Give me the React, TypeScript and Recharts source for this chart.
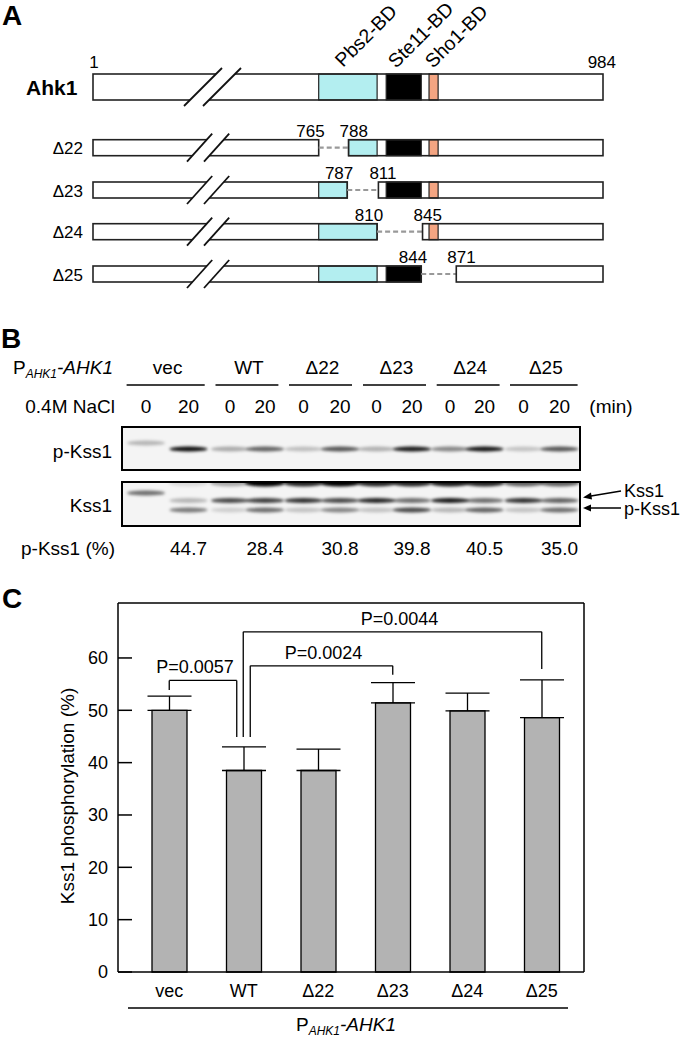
import React from 'react';
import { BarChart, Bar, XAxis, YAxis, ErrorBar, ReferenceLine } from 'recharts';

// ---- panel C data ----
const categories = ['vec', 'WT', 'Δ22', 'Δ23', 'Δ24', 'Δ25'];
const phosphoMean = [50.0, 38.5, 38.5, 51.4, 49.9, 48.6];
const phosphoErr = [2.7, 4.5, 4.1, 3.9, 3.4, 7.2];
const yTicks = [0, 10, 20, 30, 40, 50, 60];
const Y_MAX = 70.5;

// significance brackets (heights in % units)
const brackets = [
  { from: 'vec', to: 'WT', top: 55.7, fromBase: 53.9, toBase: 44.9, p: 'P=0.0057' },
  { from: 'WT', to: 'Δ23', top: 58.5, fromBase: 44.9, toBase: 56.8, p: 'P=0.0024' },
  { from: 'WT', to: 'Δ25', top: 65.0, fromBase: 44.9, toBase: 57.9, p: 'P=0.0044' },
];
// pixel nudges so the three legs on WT don't overlap
const bracketNudge = [
  { fromDx: 0, toDx: -7, labelDx: -8 },
  { fromDx: 6.5, toDx: 0, labelDx: 2 },
  { fromDx: -0.5, toDx: 0, labelDx: 7 },
];

// ---- panel B data ----
const blotGroups = ['vec', 'WT', 'Δ22', 'Δ23', 'Δ24', 'Δ25'];
const nacl = ['0', '20'];
const pKss1Pct = ['44.7', '28.4', '30.8', '39.8', '40.5', '35.0'];
const pKss1Band = [0.25, 0.95, 0.3, 0.6, 0.22, 0.65, 0.28, 0.9, 0.45, 0.92, 0.2, 0.65];
const kss1TopBand = [0, 0.1, 0.3, 1, 0.85, 1, 0.85, 0.85, 0.9, 0.85, 0.6, 0.6];
const kss1Band = [0.55, 0.25, 0.7, 0.75, 0.8, 0.7, 0.85, 0.55, 0.9, 0.55, 0.8, 0.6];
const pKss1LowerBand = [0, 0.5, 0.15, 0.55, 0.2, 0.45, 0.2, 0.7, 0.25, 0.6, 0.2, 0.55];

// ---- panel A data (residues) ----
const domains = [
  { name: 'Pbs2-BD', start: 765, end: 810, color: '#b3eef0' },
  { name: 'Ste11-BD', start: 817, end: 844, color: '#000000' },
  { name: 'Sho1-BD', start: 850, end: 857, color: '#f4a582' },
];
const deletions = [
  { name: 'Δ22', left: 765, right: 788 },
  { name: 'Δ23', left: 787, right: 811 },
  { name: 'Δ24', left: 810, right: 845 },
  { name: 'Δ25', left: 844, right: 871 },
];

const FONT = '"Liberation Sans", Arial, Helvetica, sans-serif';

const chartData = categories.map((name, i) => ({ name, mean: phosphoMean[i], err: phosphoErr[i] }));

const LeftTick = (props: any) => {
  const { x, y, payload } = props;
  return (
    <g>
      <line x1={x + 10} x2={x + 24} y1={y} y2={y} stroke="#000" strokeWidth={1.5} />
      <text x={x} y={y} dy="0.36em" textAnchor="end" fontSize={18} fill="#000" fontFamily={FONT}>
        {payload.value}
      </text>
    </g>
  );
};

const RightTick = (props: any) => {
  const { x, y } = props;
  return <line x1={x - 14} x2={x} y1={y} y2={y} stroke="#000" strokeWidth={1.5} />;
};

const legShape = (dx: number) => (p: any) => (
  <line x1={p.x1 + dx} y1={p.y1} x2={p.x2 + dx} y2={p.y2} stroke="#000" strokeWidth={1.3} />
);

const topShape = (fromDx: number, toDx: number, labelDx: number, text: string) => (p: any) => {
  const xa = p.x1 + fromDx;
  const xb = p.x2 + toDx;
  return (
    <g>
      <line x1={xa} y1={p.y1} x2={xb} y2={p.y2} stroke="#000" strokeWidth={1.3} />
      <text x={(xa + xb) / 2 + labelDx} y={p.y1 - 7} textAnchor="middle" fontSize={18} fill="#000" fontFamily={FONT}>
        {text}
      </text>
    </g>
  );
};

const PAhk1 = ({ x, y, anchor = 'start' }: { x: number; y: number; anchor?: string }) => (
  <text x={x} y={y} fontSize={19} textAnchor={anchor as any} fontFamily={FONT}>
    <tspan>P</tspan>
    <tspan fontSize={12} dy={3.5} fontStyle="italic">AHK1</tspan>
    <tspan dy={-3.5} fontStyle="italic">-AHK1</tspan>
  </text>
);

// residue -> x for the part right of the break
const rx = (r: number) => 318.7 + (r - 765) * 1.298;
const LEFT = 93;
const RIGHT = 603;

const Segment = ({ x0, x1, yc, h }: { x0: number; x1: number; yc: number; h: number }) => {
  const y0 = yc - h / 2;
  return (
    <g>
      <rect x={x0} y={y0} width={x1 - x0} height={h} fill="#fff" stroke="none" />
      {domains.map((d) => {
        const a = Math.max(rx(d.start), x0);
        const b = Math.min(rx(d.end), x1);
        if (b <= a) return null;
        return <rect key={d.name} x={a} y={y0} width={b - a} height={h} fill={d.color} stroke="#222" strokeWidth={1.2} />;
      })}
      <rect x={x0} y={y0} width={x1 - x0} height={h} fill="none" stroke="#222" strokeWidth={1.6} />
    </g>
  );
};

const Slashes = ({ yc, h, x, slope, gap }: { yc: number; h: number; x: number; slope: number; gap: number }) => {
  const ext = 6;
  const yb = yc + h / 2 + ext;
  const yt = yc - h / 2 - ext;
  const run = (yb - yt) * slope;
  return (
    <g>
      <polygon points={`${x},${yb} ${x + run},${yt} ${x + run + gap},${yt} ${x + gap},${yb}`} fill="#fff" />
      <line x1={x} y1={yb} x2={x + run} y2={yt} stroke="#111" strokeWidth={1.8} />
      <line x1={x + gap} y1={yb} x2={x + run + gap} y2={yt} stroke="#111" strokeWidth={1.8} />
    </g>
  );
};

const labelAnchors = [
  { x: 343, y: 68 },
  { x: 396, y: 69 },
  { x: 433, y: 69 },
];

const PanelA = () => {
  const mainY = 87;
  const rowYs = [147.7, 190, 231.7, 274];
  return (
    <g fontFamily={FONT} fill="#000">
      <text x={2} y={25} fontSize={28} fontWeight="bold">A</text>
      <text x={26} y={95} fontSize={21} fontWeight="bold">Ahk1</text>
      <text x={94} y={68} fontSize={17} textAnchor="middle">1</text>
      <text x={616} y={68} fontSize={17} textAnchor="end">984</text>
      {domains.map((d, i) => (
        <text
          key={d.name}
          x={labelAnchors[i].x}
          y={labelAnchors[i].y}
          fontSize={19.5}
          transform={`rotate(-45 ${labelAnchors[i].x} ${labelAnchors[i].y})`}
        >
          {d.name}
        </text>
      ))}
      <Segment x0={LEFT} x1={RIGHT} yc={mainY} h={26} />
      <Slashes yc={mainY} h={26} x={184} slope={1.0} gap={19} />
      {deletions.map((d, i) => {
        const yc = rowYs[i];
        return (
          <g key={d.name}>
            <text x={83} y={yc + 6.5} fontSize={17} textAnchor="end">{d.name}</text>
            <Segment x0={LEFT} x1={rx(d.left)} yc={yc} h={16} />
            <line x1={rx(d.left)} x2={rx(d.right)} y1={yc} y2={yc} stroke="#999" strokeWidth={2.2} strokeDasharray="5 3" />
            <Segment x0={rx(d.right)} x1={RIGHT} yc={yc} h={16} />
            <Slashes yc={yc} h={16} x={187} slope={0.9} gap={17} />
            <text x={rx(d.left) + 6} y={yc - 11} fontSize={17} textAnchor="end">{d.left}</text>
            <text x={rx(d.right) - 9} y={yc - 11} fontSize={17} textAnchor="start">{d.right}</text>
          </g>
        );
      })}
    </g>
  );
};

const laneX = [146, 188.5, 230, 265, 303.5, 340, 376.5, 412, 450, 484.5, 523.5, 559.5];
const groupLines = [
  [126.6, 204.7], [215.5, 278.4], [289, 352], [363, 426], [436.7, 499.6], [510, 577.6],
];

const Bands = ({ vals, y, h, dy = 0, w = 19 }: { vals: number[]; y: number; h: number; dy?: number; w?: number }) => (
  <g filter="url(#blur)">
    {vals.map((v, i) =>
      v > 0 ? (
        <ellipse key={i} cx={laneX[i]} cy={y + (i === 0 ? dy : 0)} rx={w} ry={h} fill="#000" opacity={v} />
      ) : null
    )}
  </g>
);

const PanelB = () => (
  <g fontFamily={FONT} fill="#000">
    <defs>
      <filter id="blur" x="-20%" y="-80%" width="140%" height="260%">
        <feGaussianBlur stdDeviation="1.8" />
      </filter>
      <clipPath id="blot1"><rect x={122} y={427} width={458} height={43} /></clipPath>
      <clipPath id="blot2"><rect x={122} y={482} width={458} height={44} /></clipPath>
    </defs>
    <text x={1} y={348} fontSize={28} fontWeight="bold">B</text>
    <PAhk1 x={13} y={374} />
    {blotGroups.map((g, i) => (
      <g key={g}>
        <text x={(groupLines[i][0] + groupLines[i][1]) / 2 + 2} y={374} fontSize={19} textAnchor="middle">{g}</text>
        <line x1={groupLines[i][0]} x2={groupLines[i][1]} y1={385} y2={385} stroke="#000" strokeWidth={1.3} />
        {nacl.map((t, j) => (
          <text key={t} x={laneX[i * 2 + j]} y={412.5} fontSize={19} textAnchor="middle">{t}</text>
        ))}
        <text x={laneX[i * 2 + 1]} y={555} fontSize={19} textAnchor="middle">{pKss1Pct[i]}</text>
      </g>
    ))}
    <text x={115} y={412.5} fontSize={19} textAnchor="end">0.4M NaCl</text>
    <text x={611} y={412.5} fontSize={19} textAnchor="middle">(min)</text>
    <text x={112} y={458} fontSize={19} textAnchor="end">p-Kss1</text>
    <text x={112} y={512} fontSize={19} textAnchor="end">Kss1</text>
    <text x={115} y={555} fontSize={19} textAnchor="end">p-Kss1 (%)</text>

    <rect x={122} y={427} width={458} height={43} fill="#f4f4f4" />
    <g clipPath="url(#blot1)">
      <Bands vals={pKss1Band} y={449} h={2.6} dy={-6} />
    </g>
    <rect x={122} y={427} width={458} height={43} fill="none" stroke="#000" strokeWidth={2} />

    <rect x={122} y={482} width={458} height={44} fill="#f4f4f4" />
    <g clipPath="url(#blot2)">
      <Bands vals={kss1TopBand} y={483} h={3.5} w={20} />
      <Bands vals={kss1Band} y={500.5} h={2.6} dy={-7.5} />
      <Bands vals={pKss1LowerBand} y={510} h={2.4} />
    </g>
    <rect x={122} y={482} width={458} height={44} fill="none" stroke="#000" strokeWidth={2} />

    <text x={624} y={497} fontSize={18}>Kss1</text>
    <text x={624} y={515} fontSize={18}>p-Kss1</text>
    <line x1={621} y1={491} x2={588} y2={496.5} stroke="#000" strokeWidth={1.4} />
    <polygon points="583,497.5 591,492.5 592,499.5" fill="#000" />
    <line x1={621} y1={508} x2={588} y2={508} stroke="#000" strokeWidth={1.4} />
    <polygon points="583,508 591,504.5 591,511.5" fill="#000" />
  </g>
);

const PanelCText = () => (
  <g fontFamily={FONT} fill="#000">
    <text x={2} y={608} fontSize={28} fontWeight="bold">C</text>
    <text
      x={67}
      y={796}
      fontSize={19}
      textAnchor="middle"
      dominantBaseline="central"
      transform="rotate(-90 67 796)"
    >
      Kss1 phosphorylation (%)
    </text>
    <line x1={128} x2={568} y1={1008} y2={1008} stroke="#000" strokeWidth={1.4} />
    <PAhk1 x={346} y={1031} anchor="middle" />
  </g>
);

export default function App() {
  return (
    <div style={{ position: 'absolute', left: 0, top: 0, width: 680, height: 1039, background: '#fff', fontFamily: FONT }}>
      <div style={{ position: 'absolute', left: 0, top: 0 }}>
        <BarChart width={680} height={1039} data={chartData} margin={{ top: 603, right: 95, bottom: 37, left: 78 }}>
          <XAxis
            dataKey="name"
            height={30}
            padding={{ left: 14, right: 5 }}
            tickLine={false}
            tickSize={0}
            tickMargin={12}
            axisLine={{ stroke: '#000', strokeWidth: 1.5 }}
            tick={{ fill: '#000', fontSize: 18, fontFamily: FONT }}
          />
          <YAxis
            type="number"
            domain={[0, Y_MAX]}
            ticks={yTicks}
            interval={0}
            width={40}
            tickLine={false}
            tickSize={0}
            tickMargin={10}
            axisLine={{ stroke: '#000', strokeWidth: 1.5 }}
            tick={<LeftTick />}
          />
          <YAxis
            yAxisId="r"
            orientation="right"
            type="number"
            domain={[0, Y_MAX]}
            ticks={yTicks}
            interval={0}
            width={1}
            tickLine={false}
            tickSize={0}
            tickMargin={0}
            axisLine={{ stroke: '#000', strokeWidth: 1.5 }}
            tick={<RightTick />}
          />
          <ReferenceLine y={Y_MAX} stroke="#000" strokeWidth={1.5} />
          <Bar dataKey="mean" fill="#b3b3b3" stroke="#000" strokeWidth={1.3} barSize={35} isAnimationActive={false}>
            <ErrorBar dataKey={(d: any) => [0, d.err]} width={22} stroke="#000" strokeWidth={1.3} direction="y" />
          </Bar>
          {brackets.map((b, i) => {
            const n = bracketNudge[i];
            return [
              <ReferenceLine
                key={`l${i}`}
                segment={[{ x: b.from, y: b.fromBase }, { x: b.from, y: b.top }]}
                shape={legShape(n.fromDx)}
              />,
              <ReferenceLine
                key={`r${i}`}
                segment={[{ x: b.to, y: b.toBase }, { x: b.to, y: b.top }]}
                shape={legShape(n.toDx)}
              />,
              <ReferenceLine
                key={`t${i}`}
                segment={[{ x: b.from, y: b.top }, { x: b.to, y: b.top }]}
                shape={topShape(n.fromDx, n.toDx, n.labelDx, b.p)}
              />,
            ];
          })}
        </BarChart>
      </div>
      <svg width={680} height={1039} style={{ position: 'absolute', left: 0, top: 0, pointerEvents: 'none' }}>
        <PanelA />
        <PanelB />
        <PanelCText />
      </svg>
    </div>
  );
}
